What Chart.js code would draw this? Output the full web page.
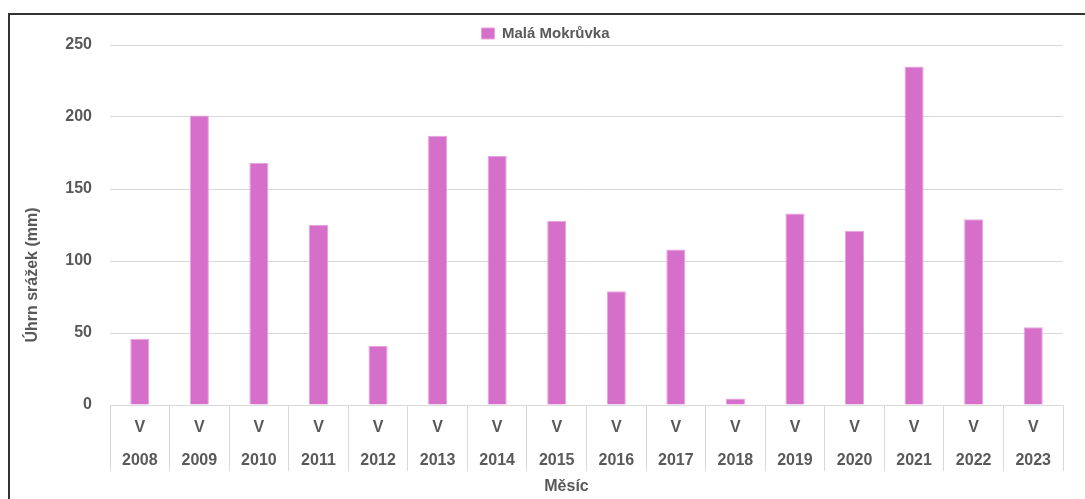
<!DOCTYPE html>
<html>
<head>
<meta charset="utf-8">
<script src="https://cdn.jsdelivr.net/npm/chart.js@4"></script>
<style>
  html, body { margin: 0; padding: 0; background: #fff; overflow: hidden; }
  .frame {
    position: absolute; left: 8px; top: 13px;
    width: 1100px; height: 500px;
    border-left: 2px solid #333; border-top: 2px solid #333;
  }
  .wrap { position: absolute; left: 0; top: 0; width: 1075px; height: 484px; }
</style>
</head>
<body>
<div class="frame"><div class="wrap"><canvas id="myChart"></canvas></div></div>
<script>
let years = ["2008", "2009", "2010", "2011", "2012", "2013", "2014", "2015",
  "2016", "2017", "2018", "2019", "2020", "2021", "2022", "2023"];
let months = ["V", "V", "V", "V", "V", "V", "V", "V", "V", "V", "V", "V", "V", "V", "V", "V"];
let rainfall = [46, 201, 168, 125, 41, 187, 173, 128, 79, 108, 4.5, 133, 121, 235, 129, 54];
let seriesName = "Malá Mokrůvka";
let xTitle = "Měsíc";
let yTitle = "Úhrn srážek (mm)";

let labels = years.map((y, i) => [months[i], y]);

const textColor = "#595959";
const gridColor = "#d9d9d9";
const fontFamily = '"Liberation Sans", Arial, sans-serif';

// axis titles sit off-centre in the original, so draw them by hand
const axisTitles = {
  id: "axisTitles",
  afterDraw(chart) {
    const { ctx, chartArea } = chart;
    ctx.save();
    ctx.fillStyle = textColor;
    ctx.font = "bold 16px " + fontFamily;
    ctx.textAlign = "center";
    ctx.textBaseline = "middle";
    ctx.fillText(xTitle, (chartArea.left + chartArea.right) / 2 - 20, chartArea.bottom + 82);
    ctx.translate(23, (chartArea.top + chartArea.bottom) / 2 + 50);
    ctx.rotate(-Math.PI / 2);
    ctx.fillText(yTitle, 0, 0);
    ctx.restore();
  },
};

const ctx = document.getElementById("myChart");
let myChart = new Chart(ctx, {
  type: "bar",
  data: {
    labels: labels,
    datasets: [
      {
        label: seriesName,
        data: rainfall,
        backgroundColor: "#d66fc9",
        borderColor: "#e6a3dd",
        borderWidth: 1,
        barPercentage: 0.32,
        categoryPercentage: 1,
      },
    ],
  },
  options: {
    responsive: true,
    maintainAspectRatio: false,
    animation: false,
    layout: { padding: { top: 8, right: 22, left: 18, bottom: 0 } },
    scales: {
      x: {
        offset: true,
        grid: {
          display: true,
          offset: true,
          drawOnChartArea: false,
          drawTicks: true,
          tickLength: 66,
          color: gridColor,
        },
        border: { display: true, color: gridColor, width: 1 },
        ticks: {
          autoSkip: false,
          maxRotation: 0,
          padding: -60,
          color: textColor,
          font: { family: fontFamily, size: 16, weight: "bold", lineHeight: 33 / 16 },
        },
        afterFit: (scale) => { scale.height = 94; },
      },
      y: {
        min: 0,
        max: 250,
        grid: { color: gridColor, drawTicks: false, lineWidth: 1 },
        border: { display: false },
        ticks: {
          stepSize: 50,
          padding: 18,
          color: textColor,
          font: { family: fontFamily, size: 16, weight: "bold" },
        },
        afterFit: (scale) => { scale.width = 82; },
      },
    },
    plugins: {
      legend: {
        position: "top",
        maxHeight: 22,
        labels: {
          boxWidth: 13,
          boxHeight: 11,
          padding: 3,
          color: textColor,
          font: { family: fontFamily, size: 15, weight: "bold" },
        },
      },
      tooltip: { enabled: false },
    },
  },
  plugins: [axisTitles],
});
</script>
</body>
</html>
